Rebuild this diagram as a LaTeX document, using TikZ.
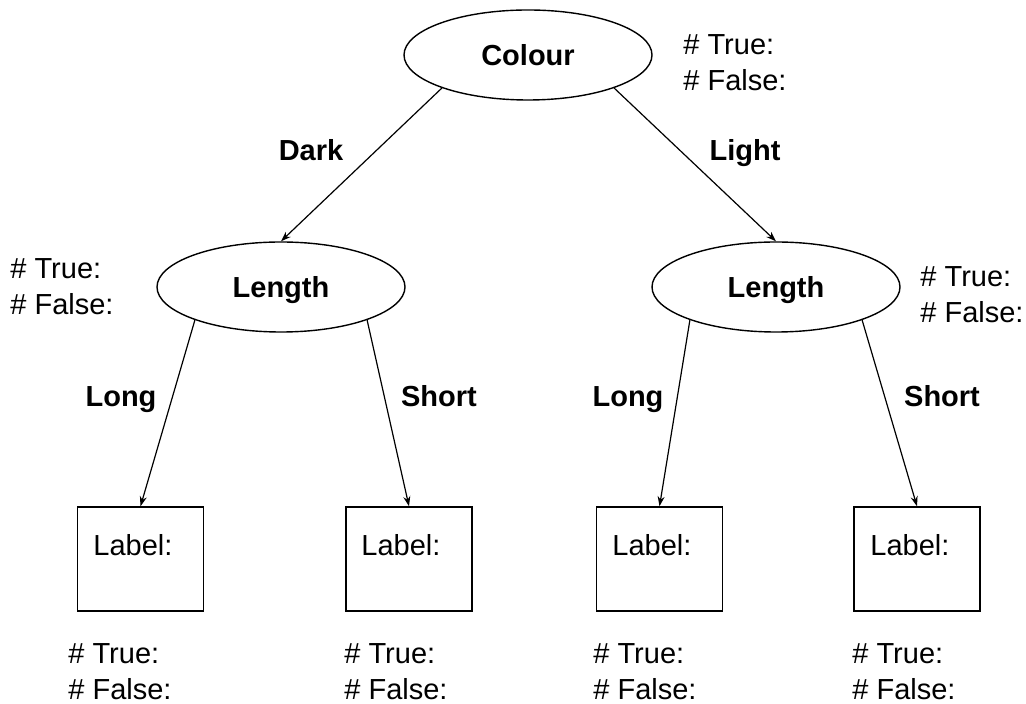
\documentclass[tikz,border=0pt]{standalone}
\usepackage{fontspec}
\setmainfont{Liberation Sans}
\usetikzlibrary{shapes.geometric,arrows.meta}
\begin{document}
\begin{tikzpicture}[x=0.5pt,y=-0.5pt]
        \tikzset{every node/.style={font=\fontsize{14.5}{18}\selectfont},
        split/.style={draw,ellipse,line width=0.7pt,inner sep=0,text depth=0pt,minimum width=124pt,minimum height=45pt,font=\fontsize{14.5}{18}\selectfont\bfseries},
        leaf/.style={draw,rectangle,line width=0.7pt,inner sep=0,minimum width=63pt,minimum height=52pt},
        count/.style={anchor=west,align=left,inner sep=0},
        branch/.style={anchor=base,inner sep=0,font=\fontsize{14.5}{18}\selectfont\bfseries},
        arr/.style={line width=0.6pt,-{Stealth[length=5pt,width=3.5pt]}}}
        \useasboundingbox (0,0) rectangle (1026,704);
        %\node (name) at (x,y) [style] {text};
        % split nodes
        \node[split] (c) at (528,55) {Colour};
        \node[split] (l1) at (281,287) {Length};
        \node[split] (l2) at (776,287) {Length};
        % leaves
        \node[leaf] (b1) at (140.5,559) {};
        \node[leaf] (b2) at (409,559) {};
        \node[leaf] (b3) at (659.5,559) {};
        \node[leaf] (b4) at (917,559) {};
        \node[anchor=west,inner sep=0] (t1) at (93,545) {Label:};
        \node[anchor=west,inner sep=0] (t2) at (361,545) {Label:};
        \node[anchor=west,inner sep=0] (t3) at (612,545) {Label:};
        \node[anchor=west,inner sep=0] (t4) at (870,545) {Label:};
        % counts
        \node[count] (nc) at (683,63) {\# True:\\\# False:};
        \node[count] (n1) at (10,287) {\# True:\\\# False:};
        \node[count] (n2) at (920,295) {\# True:\\\# False:};
        \node[count] (m1) at (68,672) {\# True:\\\# False:};
        \node[count] (m2) at (344,672) {\# True:\\\# False:};
        \node[count] (m3) at (593,672) {\# True:\\\# False:};
        \node[count] (m4) at (852,672) {\# True:\\\# False:};
        % branches
        \node[branch] (dark) at (311,161) {Dark};
        \node[branch] (light) at (745,161) {Light};
        \node[branch] (lo1) at (121,407) {Long};
        \node[branch] (sh1) at (439,407) {Short};
        \node[branch] (lo2) at (628,407) {Long};
        \node[branch] (sh2) at (942,407) {Short};
        \draw[arr] (c.201)--(l1.north);
        \draw[arr] (c.339)--(l2.north);
        \draw[arr] (l1.201)--(b1.north);
        \draw[arr] (l1.339)--(b2.north);
        \draw[arr] (l2.201)--(b3.north);
        \draw[arr] (l2.339)--(b4.north);
    \end{tikzpicture}
\end{document}
